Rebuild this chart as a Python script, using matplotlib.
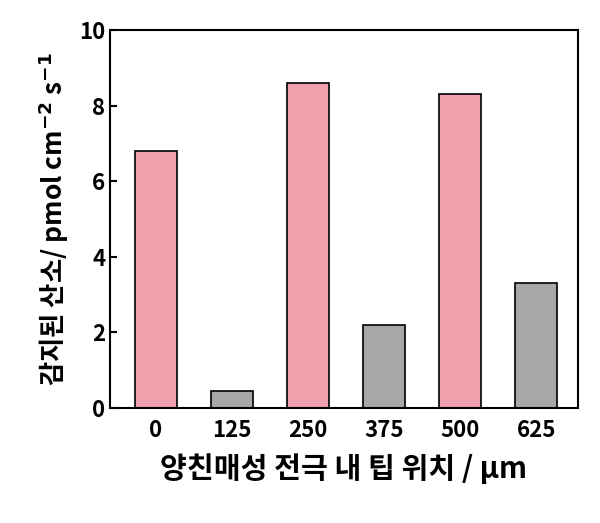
import matplotlib
matplotlib.use("Agg")
import matplotlib.pyplot as plt

categories = ["0", "125", "250", "375", "500", "625"]
values = [6.8, 0.45, 8.6, 2.2, 8.3, 3.3]
colors = ["#F0A0AC", "#A8A8A8", "#F0A0AC", "#A8A8A8", "#F0A0AC", "#A8A8A8"]

plt.rcParams['font.family'] = ['Noto Sans CJK KR', 'DejaVu Sans']
plt.rcParams['font.weight'] = 'heavy'
plt.rcParams['mathtext.default'] = 'bf'

fig = plt.figure(figsize=(6, 5.23), dpi=100)
ax = fig.add_axes([110/600, 1-408/523, 468/600, 378/523])
x = list(range(len(categories)))
ax.bar(x, values, width=0.55, color=colors, edgecolor='black', linewidth=1.2)
ax.set_xlim(-0.6, 5.55)
ax.set_ylim(0, 10)
ax.set_yticks([0, 2, 4, 6, 8, 10])
ax.set_xticks(x)
ax.set_xticklabels(categories)
ax.tick_params(axis='y', direction='in', length=5, width=1.5, labelsize=16)
ax.tick_params(axis='x', length=0, labelsize=16, pad=8)
for s in ax.spines.values():
    s.set_linewidth(1.5)
ax.set_xlabel("양친매성 전극 내 팁 위치 / μm", fontsize=21, fontweight='heavy', labelpad=8)
ax.set_ylabel("감지된 산소/ pmol cm$^{-2}$ s$^{-1}$", fontsize=19, fontweight='heavy', labelpad=6)
fig.savefig("out.png", dpi=100)
